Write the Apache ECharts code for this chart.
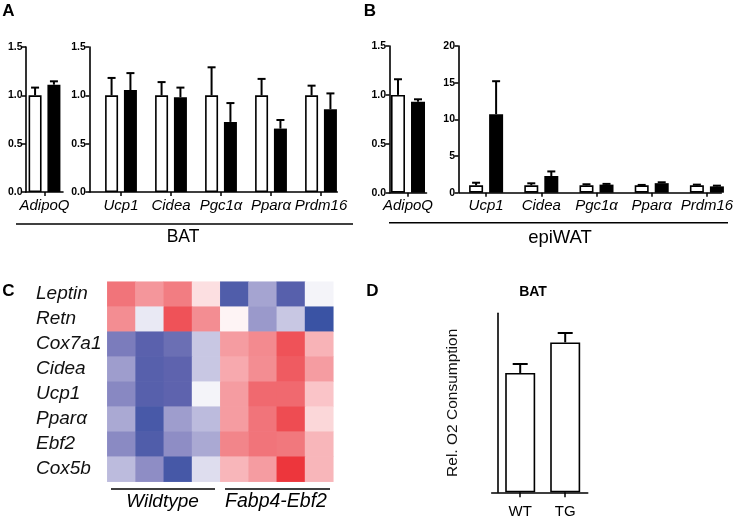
<!DOCTYPE html>
<html><head><meta charset="utf-8">
<script src="https://cdn.jsdelivr.net/npm/echarts@6/dist/echarts.min.js"></script>
<style>html,body{margin:0;padding:0;background:#fff}#c{width:738px;height:520px}</style>
</head><body><div id="c"></div>
<script>
// ---------- DATA ----------
const adipoCat = ['AdipoQ'];
const geneCats = ['Ucp1', 'Cidea', 'Pgc1α', 'Pparα', 'Prdm16'];

// Panel A (BAT)
const batAdipoWT = [1.0];
const batAdipoWTErr = [1.08];
const batAdipoTG = [1.11];
const batAdipoTGErr = [1.145];
const batWT = [1.0, 1.0, 1.0, 1.0, 1.0];
const batWTErr = [1.18, 1.137, 1.29, 1.17, 1.10];
const batTG = [1.055, 0.98, 0.725, 0.656, 0.856];
const batTGErr = [1.23, 1.08, 0.92, 0.745, 1.02];

// Panel B (epiWAT)
const epiAdipoWT = [1.0];
const epiAdipoWTErr = [1.16];
const epiAdipoTG = [0.93];
const epiAdipoTGErr = [0.955];
const epiWT = [1.0, 1.0, 1.0, 1.0, 1.0];
const epiWTErr = [1.36, 1.28, 1.15, 1.06, 1.1];
const epiTG = [10.7, 2.28, 1.1, 1.3, 0.86];
const epiTGErr = [15.2, 2.9, 1.2, 1.42, 0.96];

// Panel C (heatmap)
const heatRows = ['Leptin', 'Retn', 'Cox7a1', 'Cidea', 'Ucp1', 'Pparα', 'Ebf2', 'Cox5b'];
const heatCols = ['WT1', 'WT2', 'WT3', 'WT4', 'TG1', 'TG2', 'TG3', 'TG4'];
const heatLeptin = [0.65, 0.45, 0.6, 0.12, -0.85, -0.4, -0.8, -0.05];
const heatRetn   = [0.5, -0.1, 0.85, 0.5, 0.04, -0.45, -0.25, -1.0];
const heatCox7a1 = [-0.6, -0.78, -0.68, -0.25, 0.42, 0.52, 0.85, 0.3];
const heatCidea  = [-0.43, -0.8, -0.75, -0.25, 0.35, 0.5, 0.8, 0.42];
const heatUcp1   = [-0.53, -0.8, -0.75, -0.05, 0.42, 0.72, 0.72, 0.22];
const heatPpara  = [-0.38, -0.9, -0.43, -0.3, 0.42, 0.65, 0.88, 0.15];
const heatEbf2   = [-0.52, -0.85, -0.5, -0.38, 0.55, 0.65, 0.63, 0.28];
const heatCox5b  = [-0.3, -0.5, -0.92, -0.15, 0.28, 0.42, 1.0, 0.28];
const heatMatrix = [heatLeptin, heatRetn, heatCox7a1, heatCidea, heatUcp1, heatPpara, heatEbf2, heatCox5b];

// Panel D
const o2Cats = ['WT', 'TG'];
const o2Mean = [1.0, 1.256];
const o2Err = [1.075, 1.335];

// ---------- HELPERS ----------
const FONT = 'Liberation Sans, Arial, Helvetica, sans-serif';
const BLACK = '#000';

function errSeries(ax, cats, tops, means, offset, capW) {
  return {
    type: 'custom', xAxisIndex: ax, yAxisIndex: ax, z: 5, silent: true,
    renderItem: function (params, api) {
      const i = api.value(0);
      const t = api.coord([i, api.value(1)]);
      const m = api.coord([i, api.value(2)]);
      const cx = t[0] + offset;
      return {
        type: 'group', children: [
          { type: 'line', shape: { x1: cx, y1: m[1], x2: cx, y2: t[1] }, style: { stroke: BLACK, lineWidth: 2 } },
          { type: 'line', shape: { x1: cx - capW / 2, y1: t[1], x2: cx + capW / 2, y2: t[1] }, style: { stroke: BLACK, lineWidth: 2 } }
        ]
      };
    },
    data: tops.map((v, i) => [i, v, means[i]])
  };
}
function barSeries(ax, data, white, w, gap) {
  return {
    type: 'bar', xAxisIndex: ax, yAxisIndex: ax, data: data, barWidth: w, barGap: gap,
    itemStyle: white ? { color: '#fff', borderColor: BLACK, borderWidth: 1.6 } : { color: BLACK },
    silent: true
  };
}
function catX(ax, cats, labels) {
  return {
    type: 'category', gridIndex: ax, data: cats,
    axisLine: { show: false },
    axisTick: { show: true, alignWithLabel: true, interval: 0, length: 4, lineStyle: { color: BLACK, width: 1.5 } },
    axisLabel: Object.assign({ show: true, interval: 0, color: BLACK, fontFamily: FONT, fontSize: 15, fontStyle: 'italic', margin: 6 }, labels || {})
  };
}
function valY(ax, max, interval, fmt, offset) {
  return {
    type: 'value', gridIndex: ax, min: 0, max: max, interval: interval, offset: offset || 0,
    splitLine: { show: false },
    axisLine: { show: true, onZero: false, lineStyle: { color: BLACK, width: 1.6 } },
    axisTick: { show: true, length: 4, lineStyle: { color: BLACK, width: 1.5 } },
    axisLabel: { show: true, color: BLACK, fontFamily: FONT, fontSize: 10.5, fontWeight: 'bold', margin: 3.5, formatter: fmt }
  };
}
function lineOnlyX(ax) {
  return { type: 'value', gridIndex: ax, min: 0, max: 1, axisLine: { show: true, onZero: false, lineStyle: { color: BLACK, width: 1.6 } }, axisTick: { show: false }, axisLabel: { show: false }, splitLine: { show: false } };
}
function hiddenY(ax) {
  return { type: 'value', gridIndex: ax, min: 0, max: 1, show: false };
}
const fmt1 = v => v.toFixed(1);
const fmt0 = v => String(v);

// grids
const grids = [
  { left: 26, top: 47, width: 37, height: 145 },        // 0 A adipo
  { left: 96, top: 47, width: 250, height: 145 },       // 1 A main
  { left: 389.5, top: 46, width: 37, height: 146.7 },   // 2 B adipo
  { left: 458.5, top: 46, width: 276, height: 146.7 },  // 3 B main
  { left: 107.3, top: 281.7, width: 226, height: 200 }, // 4 heatmap
  { left: 497.7, top: 313.3, width: 90, height: 179 },  // 5 D
  { left: 26, top: 47, width: 37, height: 145 },        // 6 A adipo x-line
  { left: 89.3, top: 47, width: 248, height: 145 },     // 7 A main x-line
  { left: 389.5, top: 46, width: 37, height: 146.7 },   // 8 B adipo x-line
  { left: 459.3, top: 46, width: 262, height: 146.7 },  // 9 B main x-line
  { left: 491.7, top: 313.3, width: 96, height: 179 }   // 10 D x-line
];

const xAxes = [
  catX(0, adipoCat),
  catX(1, geneCats),
  catX(2, adipoCat),
  catX(3, geneCats),
  { type: 'category', gridIndex: 4, data: heatCols, show: false },
  catX(5, o2Cats, { fontStyle: 'normal', fontSize: 15, margin: 12 }),
  lineOnlyX(6), lineOnlyX(7), lineOnlyX(8), lineOnlyX(9), lineOnlyX(10)
];
xAxes[5].axisTick.length = 5;

const yAxes = [
  valY(0, 1.5, 0.5, fmt1),
  valY(1, 1.5, 0.5, fmt1, 6.7),
  valY(2, 1.5, 0.5, fmt1),
  valY(3, 20, 5, fmt0),
  {
    type: 'category', gridIndex: 4, data: heatRows, inverse: true,
    axisLine: { show: false }, axisTick: { show: false },
    axisLabel: { show: true, interval: 0, align: 'left', margin: 71.3, color: '#111', fontFamily: FONT, fontSize: 19, fontStyle: 'italic' }
  },
  {
    type: 'value', gridIndex: 5, min: 0, max: 1.5, splitLine: { show: false },
    axisLine: { show: true, onZero: false, lineStyle: { color: BLACK, width: 1.6 } },
    axisTick: { show: false }, axisLabel: { show: false },
    name: 'Rel. O2 Consumption', nameLocation: 'middle', nameGap: 37, nameRotate: 90,
    nameTextStyle: { color: '#111', fontFamily: FONT, fontSize: 15.5 }
  },
  hiddenY(6), hiddenY(7), hiddenY(8), hiddenY(9), hiddenY(10)
];

const wA = 13, gA = 0.45, offA = wA * (1 + gA) / 2;
const wB = 14, gB = 0.43, offB = wB * (1 + gB) / 2;

const heatData = [];
heatMatrix.forEach((row, r) => row.forEach((v, c) => heatData.push([c, r, v])));

const series = [
  barSeries(0, batAdipoWT, true, wA, gA * 100 + '%'),
  barSeries(0, batAdipoTG, false, wA, gA * 100 + '%'),
  errSeries(0, adipoCat, batAdipoWTErr, batAdipoWT, -offA, 8),
  errSeries(0, adipoCat, batAdipoTGErr, batAdipoTG, offA, 8),

  barSeries(1, batWT, true, wA, gA * 100 + '%'),
  barSeries(1, batTG, false, wA, gA * 100 + '%'),
  errSeries(1, geneCats, batWTErr, batWT, -offA, 8),
  errSeries(1, geneCats, batTGErr, batTG, offA, 8),

  barSeries(2, epiAdipoWT, true, wB, gB * 100 + '%'),
  barSeries(2, epiAdipoTG, false, wB, gB * 100 + '%'),
  errSeries(2, adipoCat, epiAdipoWTErr, epiAdipoWT, -offB, 8),
  errSeries(2, adipoCat, epiAdipoTGErr, epiAdipoTG, offB, 8),

  barSeries(3, epiWT, true, wB, gB * 100 + '%'),
  barSeries(3, epiTG, false, wB, gB * 100 + '%'),
  errSeries(3, geneCats, epiWTErr, epiWT, -offB, 8),
  errSeries(3, geneCats, epiTGErr, epiTG, offB, 8),

  { type: 'heatmap', xAxisIndex: 4, yAxisIndex: 4, data: heatData, silent: true, itemStyle: { borderWidth: 0 } },

  barSeries(5, o2Mean, true, 30, '0%'),
  errSeries(5, o2Cats, o2Err, o2Mean, 0, 15)
];

const txt = (x, y, text, font) => ({
  type: 'text', x: x, y: y, silent: true,
  style: { text: text, fill: '#000', font: font, textAlign: 'center', textVerticalAlign: 'middle' }
});
const hline = (x1, x2, y) => ({ type: 'line', silent: true, shape: { x1: x1, y1: y, x2: x2, y2: y }, style: { stroke: '#000', lineWidth: 1.6 } });

const graphics = [
  txt(8.5, 11, 'A', 'bold 17px ' + FONT),
  txt(370, 11, 'B', 'bold 17px ' + FONT),
  txt(8.5, 291.5, 'C', 'bold 17px ' + FONT),
  txt(372.5, 291.5, 'D', 'bold 17px ' + FONT),
  hline(16, 353, 224),
  txt(183, 237, 'BAT', 'normal 17.5px ' + FONT),
  hline(389, 728, 222.7),
  txt(560, 238, 'epiWAT', 'normal 18.5px ' + FONT),
  hline(111, 215, 489),
  hline(225, 330, 489),
  txt(162.5, 502, 'Wildtype', 'italic 19px ' + FONT),
  txt(276, 502, 'Fabp4-Ebf2', 'italic 19.5px ' + FONT),
  txt(533, 292.5, 'BAT', 'bold 14px ' + FONT)
];

const chart = echarts.init(document.getElementById('c'), null, { renderer: 'canvas' });
chart.setOption({
  animation: false,
  backgroundColor: '#fff',
  textStyle: { fontFamily: FONT },
  grid: grids,
  xAxis: xAxes,
  yAxis: yAxes,
  visualMap: {
    type: 'continuous', show: false, min: -1, max: 1, seriesIndex: 16, dimension: 2,
    inRange: { color: ['#3A53A4', '#5E63AE', '#8E8DC5', '#C8C7E3', '#FFFFFF', '#F9BCC0', '#F38D92', '#F0646A', '#ED363C'] }
  },
  series: series,
  graphic: graphics
});
</script>
</body></html>
